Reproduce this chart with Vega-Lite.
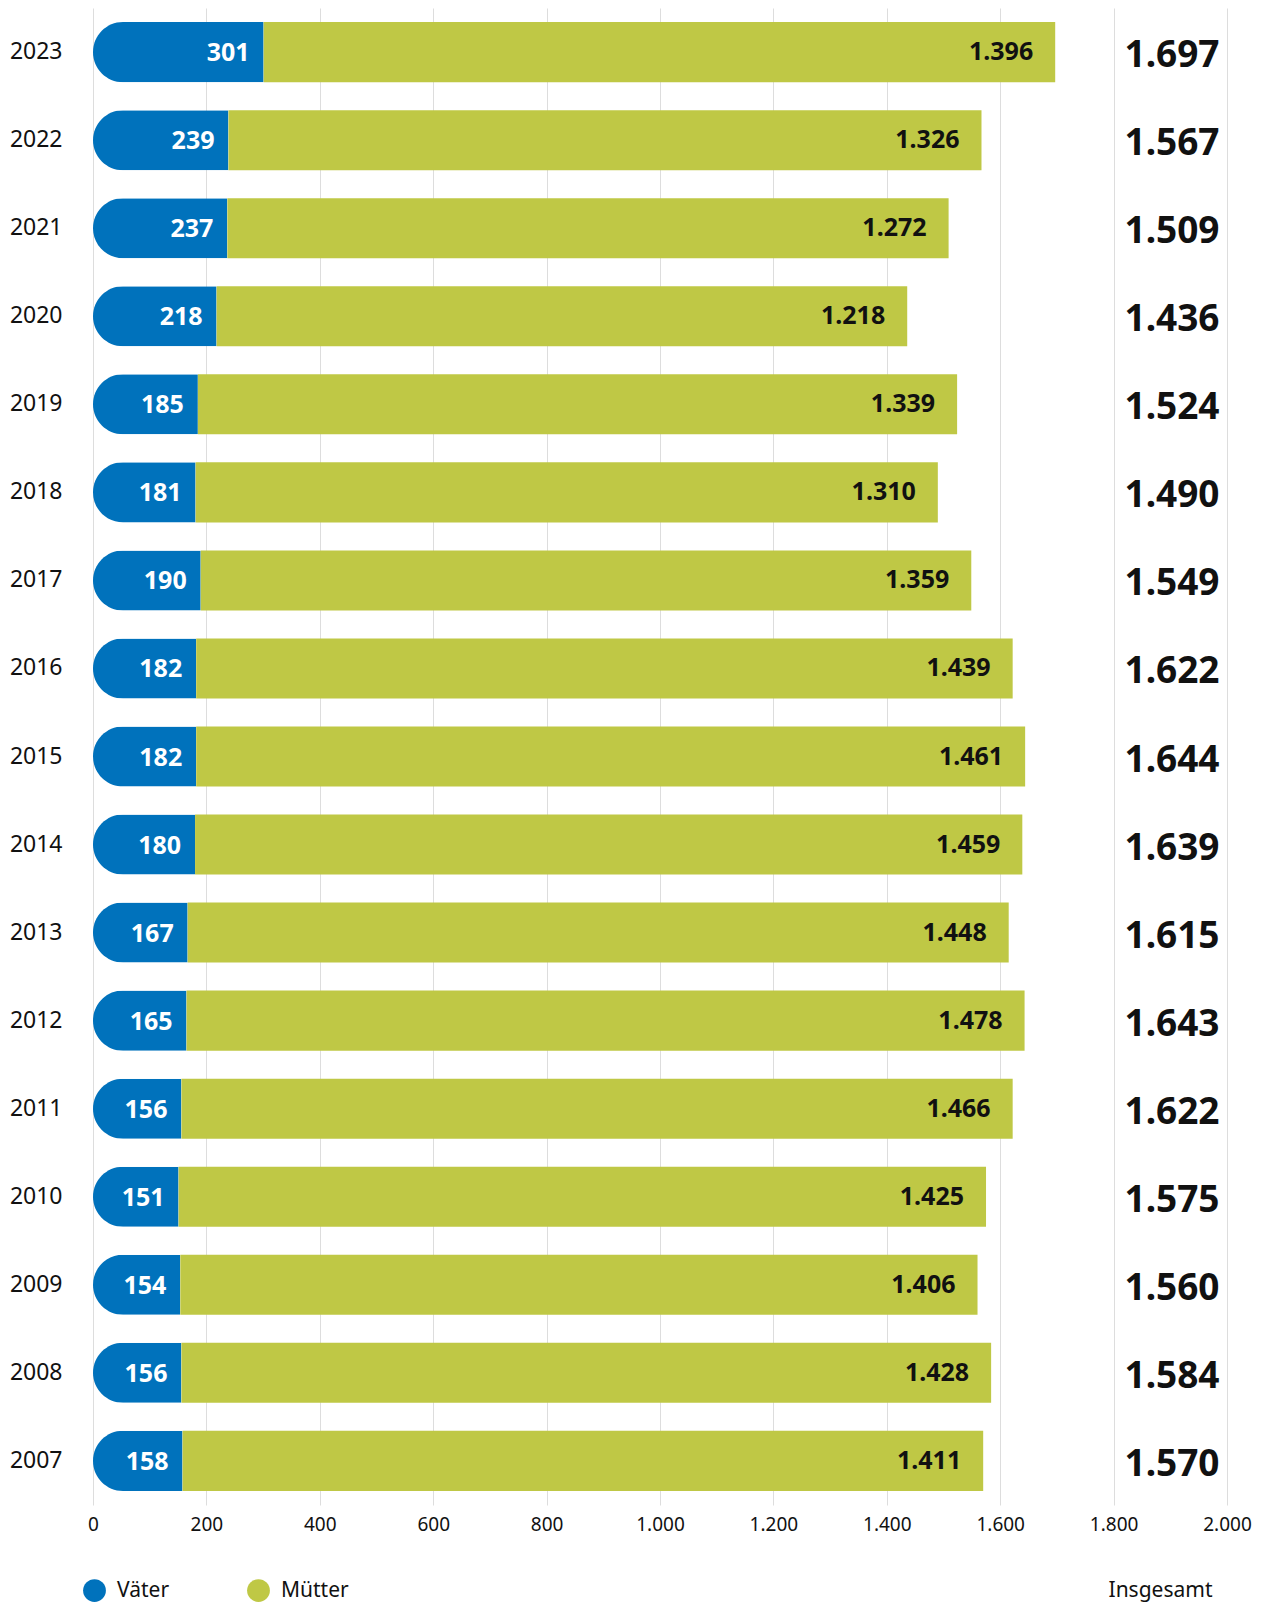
{
  "$schema": "https://vega.github.io/schema/vega-lite/v6.json",
  "autosize": "none",
  "width": 1134,
  "height": 1497,
  "padding": {"left": 93, "top": 8, "right": 37, "bottom": 97},
  "background": "white",
  "config": {
    "locale": {"number": {"decimal": ",", "thousands": ".", "grouping": [3], "currency": ["", " €"]}},
    "font": "Noto Sans",
    "view": {"stroke": null}
  },
  "data": {
    "values": [
      {"Jahr": "2023", "Väter": 301, "Mütter": 1396, "Insgesamt": 1697},
      {"Jahr": "2022", "Väter": 239, "Mütter": 1326, "Insgesamt": 1567},
      {"Jahr": "2021", "Väter": 237, "Mütter": 1272, "Insgesamt": 1509},
      {"Jahr": "2020", "Väter": 218, "Mütter": 1218, "Insgesamt": 1436},
      {"Jahr": "2019", "Väter": 185, "Mütter": 1339, "Insgesamt": 1524},
      {"Jahr": "2018", "Väter": 181, "Mütter": 1310, "Insgesamt": 1490},
      {"Jahr": "2017", "Väter": 190, "Mütter": 1359, "Insgesamt": 1549},
      {"Jahr": "2016", "Väter": 182, "Mütter": 1439, "Insgesamt": 1622},
      {"Jahr": "2015", "Väter": 182, "Mütter": 1461, "Insgesamt": 1644},
      {"Jahr": "2014", "Väter": 180, "Mütter": 1459, "Insgesamt": 1639},
      {"Jahr": "2013", "Väter": 167, "Mütter": 1448, "Insgesamt": 1615},
      {"Jahr": "2012", "Väter": 165, "Mütter": 1478, "Insgesamt": 1643},
      {"Jahr": "2011", "Väter": 156, "Mütter": 1466, "Insgesamt": 1622},
      {"Jahr": "2010", "Väter": 151, "Mütter": 1425, "Insgesamt": 1575},
      {"Jahr": "2009", "Väter": 154, "Mütter": 1406, "Insgesamt": 1560},
      {"Jahr": "2008", "Väter": 156, "Mütter": 1428, "Insgesamt": 1584},
      {"Jahr": "2007", "Väter": 158, "Mütter": 1411, "Insgesamt": 1570}
    ]
  },
  "encoding": {
    "y": {
      "field": "Jahr",
      "type": "nominal",
      "sort": "descending",
      "scale": {"paddingInner": 0.318, "paddingOuter": 0.16},
      "axis": {
        "title": null,
        "domain": false,
        "ticks": false,
        "grid": false,
        "labelFontSize": 23,
        "labelColor": "#111111",
        "labelPadding": 31,
        "labelFont": "Noto Sans"
      }
    }
  },
  "layer": [
    {
      "mark": {"type": "bar", "cornerRadiusTopLeft": 30, "cornerRadiusBottomLeft": 30},
      "encoding": {
        "x": {
          "field": "Väter",
          "type": "quantitative",
          "scale": {"domain": [0, 2000], "nice": false},
          "axis": {
            "values": [0, 200, 400, 600, 800, 1000, 1200, 1400, 1600, 1800, 2000],
            "format": ",d",
            "domain": false,
            "ticks": false,
            "grid": true,
            "gridColor": "#dddddd",
            "gridWidth": 1,
            "labelFontSize": 19,
            "labelColor": "#111111",
            "labelPadding": 10,
            "labelFlush": false,
            "title": "Insgesamt",
            "titleFontSize": 21,
            "titleFontWeight": "normal",
            "titleColor": "#111111",
            "titleX": 1067,
            "titleY": 85,
            "titleAlign": "center",
            "titleBaseline": "middle"
          }
        },
        "color": {
          "datum": "Väter",
          "type": "nominal",
          "scale": {"domain": ["Väter", "Mütter"], "range": ["#0072BC", "#BFC845"]},
          "legend": {
            "title": null,
            "orient": "none",
            "direction": "horizontal",
            "legendX": -10,
            "legendY": 1571,
            "symbolType": "circle",
            "symbolSize": 520,
            "symbolStrokeWidth": 0,
            "labelFontSize": 21,
            "labelColor": "#111111",
            "labelOffset": 11,
            "columnPadding": 77
          }
        }
      }
    },
    {
      "mark": {"type": "bar"},
      "encoding": {
        "x": {"field": "Väter", "type": "quantitative"},
        "x2": {"field": "Insgesamt"},
        "color": {"datum": "Mütter", "type": "nominal"}
      }
    },
    {
      "mark": {"type": "text", "align": "right", "baseline": "middle", "dx": -14, "dy": 1, "fontSize": 25, "fontWeight": "bold", "color": "white"},
      "encoding": {
        "x": {"field": "Väter", "type": "quantitative"},
        "text": {"field": "Väter", "type": "quantitative", "format": ",d"}
      }
    },
    {
      "mark": {"type": "text", "align": "right", "baseline": "middle", "dx": -22, "dy": 0, "fontSize": 25, "fontWeight": "bold", "color": "#111111"},
      "encoding": {
        "x": {"field": "Insgesamt", "type": "quantitative"},
        "text": {"field": "Mütter", "type": "quantitative", "format": ",d"}
      }
    },
    {
      "mark": {"type": "text", "align": "center", "baseline": "middle", "dy": 4, "fontSize": 37, "fontWeight": "bold", "color": "#111111"},
      "encoding": {
        "x": {"datum": 1903, "type": "quantitative"},
        "text": {"field": "Insgesamt", "type": "quantitative", "format": ",d"}
      }
    }
  ]
}
